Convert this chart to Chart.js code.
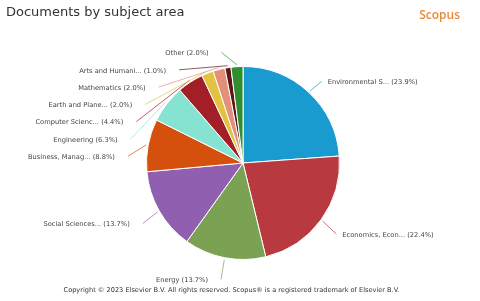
<!DOCTYPE html>
<html>
<head>
<meta charset="utf-8">
<script src="https://cdn.jsdelivr.net/npm/chart.js"></script>
<style>
  html, body { margin: 0; padding: 0; background: #fff; }
  #wrap { position: relative; width: 480px; height: 301px; font-family: "DejaVu Sans", sans-serif; }
  #title { position: absolute; left: 6px; top: 4px; font-size: 13px; color: #333; }
  #brand { position: absolute; right: 20px; top: 6px; font-size: 12px; color: #e98a3a; font-family: "Open Sans", sans-serif; font-weight: 600; }
  #copy { position: absolute; left: 0; width: 463px; top: 286px; text-align: center; font-size: 6.6px; color: #333; }
  canvas { position: absolute; left: 0; top: 0; }
</style>
</head>
<body>
<div id="wrap">
  <canvas id="subjects" width="480" height="301"></canvas>
  <div id="title">Documents by subject area</div>
  <div id="brand">Scopus</div>
  <div id="copy">Copyright © 2023 Elsevier B.V. All rights reserved. Scopus® is a registered trademark of Elsevier B.V.</div>
</div>
<script>
// categories as shown on the chart (clockwise from the top)
const subjects = [
  'Environmental S...', 'Economics, Econ...', 'Energy', 'Social Sciences...',
  'Business, Manag...', 'Engineering', 'Computer Scienc...', 'Earth and Plane...',
  'Mathematics', 'Arts and Humani...', 'Other'
]
const shares = [23.9, 22.4, 13.7, 13.7, 8.8, 6.3, 4.4, 2.0, 2.0, 1.0, 2.0]
const sliceColors = [
  '#1a9bd0', '#b8393f', '#7ba152', '#915fb0', '#d5500d', '#86e3d2',
  '#a31f27', '#e2c241', '#e3907a', '#5b1718', '#2f8f2f'
]

// outside labels with leader lines, spread so they do not overlap
const outsideLabels = {
  id: 'outsideLabels',
  afterDatasetsDraw (chart) {
    const ctx = chart.ctx
    const meta = chart.getDatasetMeta(0)
    const items = meta.data.map((arc, i) => {
      const mid = (arc.startAngle + arc.endAngle) / 2
      const R = arc.outerRadius + 19
      const cy = arc.y + 3
      return {
        i, arc, mid, R, cy,
        left: Math.cos(mid) < 0,
        y: cy + R * Math.sin(mid)
      }
    })
    const spread = (list) => {
      list.sort((a, b) => a.y - b.y)
      let prev = -Infinity
      list.forEach(it => {
        const minY = it.arc.y - it.arc.outerRadius - 14
        it.y = Math.max(it.y, prev + 17.3, minY)
        prev = it.y
      })
    }
    spread(items.filter(it => it.left))
    spread(items.filter(it => !it.left))

    ctx.save()
    ctx.font = '6.7px "DejaVu Sans"'
    ctx.textBaseline = 'middle'
    items.forEach(it => {
      const { arc, mid, R } = it
      const dy = it.y - it.cy
      const dx = Math.sqrt(Math.max(R * R - dy * dy, 0))
      const ex = it.left ? arc.x - dx : arc.x + dx
      const sx = arc.x + (arc.outerRadius + 2) * Math.cos(mid)
      const sy = arc.y + (arc.outerRadius + 2) * Math.sin(mid)
      ctx.globalAlpha = 0.7
      ctx.strokeStyle = sliceColors[it.i]
      ctx.lineWidth = 1
      ctx.beginPath()
      ctx.moveTo(sx, sy)
      ctx.lineTo(ex, it.y)
      ctx.stroke()
      ctx.globalAlpha = 1
      ctx.fillStyle = '#444'
      const text = subjects[it.i] + ' (' + shares[it.i].toFixed(1) + '%)'
      if (it.left) {
        ctx.textAlign = 'right'
        ctx.fillText(text, ex - 13, it.y + 1)
      } else {
        ctx.textAlign = 'left'
        ctx.fillText(text, ex + 6, it.y + 1)
      }
    })
    ctx.restore()
  }
}

const ctx = document.querySelector('#subjects')
const subjectChart = new Chart(ctx, {
  type: 'pie',
  data: {
    labels: subjects,
    datasets: [{
      data: shares,
      backgroundColor: sliceColors,
      borderColor: '#fff',
      borderWidth: 1
    }]
  },
  options: {
    responsive: false,
    animation: false,
    layout: { padding: { top: 66, bottom: 41, left: 100, right: 94 } },
    plugins: {
      legend: { display: false },
      tooltip: { enabled: false }
    }
  },
  plugins: [outsideLabels]
})
</script>
</body>
</html>
